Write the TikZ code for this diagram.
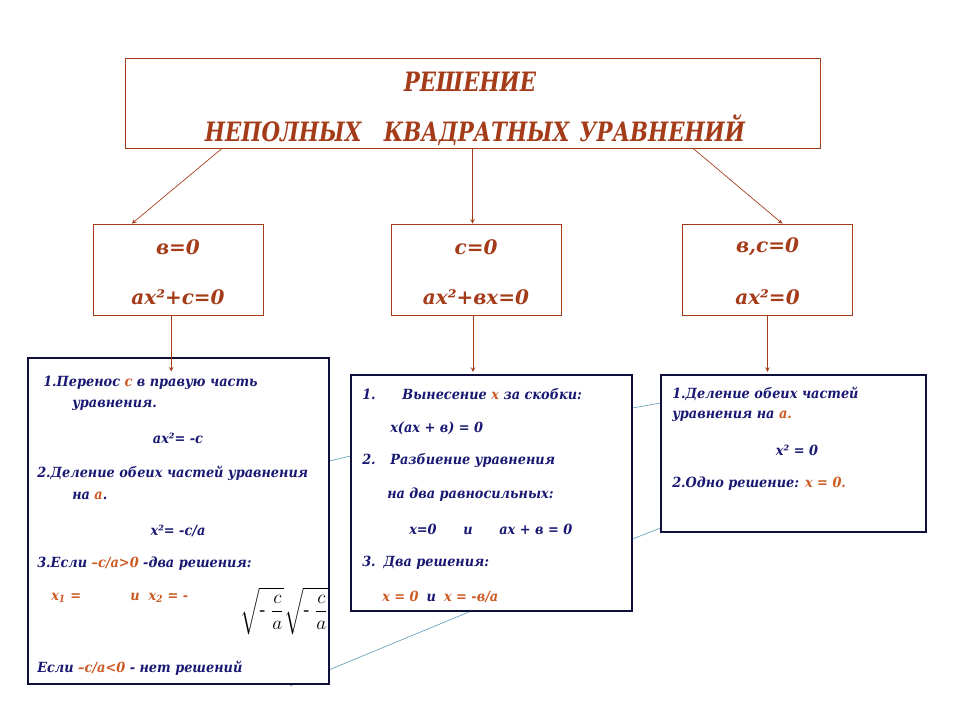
\documentclass[tikz,border=0pt]{standalone}
\usepackage{amsmath}
\usepackage{fontspec}
\setmainfont{DejaVu Serif}
\newfontfamily\titlefont{DejaVu Serif}[FakeStretch=0.8]
\newfontfamily\stepfont{DejaVu Serif}[FakeStretch=0.92]
\usetikzlibrary{calc,backgrounds}

\definecolor{brick}{RGB}{165,60,25}
\definecolor{ink}{RGB}{25,25,115}
\definecolor{hot}{RGB}{205,90,35}
\definecolor{wire}{RGB}{105,160,190}
\definecolor{frame}{RGB}{15,15,60}

\newcommand{\orng}[1]{\textcolor{hot}{#1}}
\newcommand{\rootca}{$\sqrt{\text{-}\;\dfrac{c}{a}}$}

\tikzset{
	titlebox/.style={draw=brick, fill=white, line width=0.6pt, minimum width=521.25pt, minimum height=67.5pt},
	casebox/.style={draw=brick, fill=white, line width=0.6pt, minimum width=127.5pt, minimum height=68.25pt},
	stepbox/.style={draw=frame, fill=white, line width=0.8pt},
	arr/.style={-stealth, draw=brick, line width=0.5pt},
	wireline/.style={draw=wire, line width=0.5pt},
	bigtext/.style={text=brick, font=\titlefont\fontsize{20}{24}\selectfont\bfseries\itshape},
	casetext/.style={text=brick, font=\fontsize{15}{18}\selectfont\bfseries\itshape},
	steptext/.style={text=ink, anchor=west, inner sep=0pt, font=\stepfont\fontsize{10.5}{12}\selectfont\bfseries\itshape},
	roottext/.style={font=\fontsize{14}{16}\selectfont, inner sep=0pt},
}

\begin{document}
\begin{tikzpicture}[x=0.75pt,y=-0.75pt]

\useasboundingbox (0,0) rectangle (960,720);

%Title
\node [titlebox] (title) at (472.5,103) {};
\node [bigtext] (tt1) at (470,82) {РЕШЕНИЕ};
\node [bigtext] (tt2) at (475,130) {НЕПОЛНЫХ\hspace{17pt}КВАДРАТНЫХ\hspace{7.5pt}УРАВНЕНИЙ};

%Cases
\node [casebox] (case1) at (178,269.5) {};
\node [casetext] (c11) at (178,247) {в=0};
\node [casetext] (c12) at (178,297) {ax²+c=0};

\node [casebox] (case2) at (476,269.5) {};
\node [casetext] (c21) at (476,247) {c=0};
\node [casetext] (c22) at (476,297) {ax²+вx=0};

\node [casebox] (case3) at (767.5,269.5) {};
\node [casetext] (c31) at (767.5,247) {в,c=0};
\node [casetext] (c32) at (767.5,297) {ax²=0};

\draw[arr] ($(title.south west)!0.14!(title.south east)$) -- ($(case1.north west)!0.23!(case1.north east)$);
\draw[arr] (title.south) -- (title.south |- case2.north);
\draw[arr] ($(title.south west)!0.817!(title.south east)$) -- ($(case3.north west)!0.587!(case3.north east)$);

%Solution boxes
\node [stepbox, minimum width=225.75pt, minimum height=244.5pt] (box1) at (178.5,521) {};
\node [stepbox, minimum width=210.75pt, minimum height=177pt] (box2) at (491.5,493) {};
\node [stepbox, minimum width=198.75pt, minimum height=117.75pt] (box3) at (793.5,453.5) {};

\coordinate (d1) at ($(case1.south west)!0.46!(case1.south east)$);
\draw[arr, shorten >=-10.5pt] (d1) -- (d1 |- box1.north);
\draw[arr, shorten >=2pt] (case2.south -| 473,0) -- (box2.north -| 473,0);
\draw[arr, shorten >=2pt] (case3.south) -- (case3.south |- box3.north);

%Thin lines behind the boxes
\begin{scope}[on background layer]
\fill[white] (0,0) rectangle (960,720);
\coordinate (wend) at (290,686);
\draw[wireline] (wend) -- (box2.south -| 470,0);
\draw[wireline] (box1.east |- 0,461) -- (box2.west |- 0,456);
\draw[wireline] (box2.east |- 0,408) -- (box3.west |- 0,403);
\draw[wireline] (box2.east |- 0,539) -- (box3.west |- 0,528);
\end{scope}

%Box 1
\node [steptext] (s11) at (43,383) {1.Перенос \orng{с} в правую часть};
\node [steptext] (s12) at (72,405) {уравнения.};
\node [steptext, anchor=center] (s13) at (178,438) {ax²= -c};
\node [steptext] (s14) at (37,473) {2.Деление обеих частей уравнения};
\node [steptext] (s15) at (72,496) {на \orng{а}.};
\node [steptext, anchor=center] (s16) at (178,531) {x²= -c/a};
\node [steptext] (s17) at (37,564) {3.Если \orng{–c/a>0} -два решения:};
\node [steptext, text=hot] (s18) at (51,598) {x\textsubscript{1} =};
\node [steptext, text=hot] (s19) at (130,598) {и\ \ x\textsubscript{2} = -};
\node [roottext] (r1) at (262,611) {\rootca};
\node [roottext] (r2) at (306,611) {\rootca};
\node [steptext] (s20) at (37,668) {Если \orng{–c/a<0} - нет решений};

%Box 2
\node [steptext] (t1) at (362,394) {1.\hspace{20pt}Вынесение \orng{x} за скобки:};
\node [steptext] (t2) at (390,428) {x(ax + в) = 0};
\node [steptext] (t3) at (362,461) {2.\hspace{11pt}Разбиение уравнения};
\node [steptext] (t4) at (387,495) {на два равносильных:};
\node [steptext] (t5) at (409,529) {x=0\hspace{20pt}и\hspace{20pt}ax + в = 0};
\node [steptext] (t6) at (362,563) {3.\hspace{6pt}Два решения:};
\node [steptext] (t7) at (382,597) {\orng{x = 0}\hspace{6pt}и\hspace{6pt}\orng{x = -в/a}};

%Box 3
\node [steptext] (u1) at (672,394) {1.Деление обеих частей};
\node [steptext] (u2) at (672,416) {уравнения на \orng{а.}};
\node [steptext, anchor=center] (u3) at (797,450) {x² = 0};
\node [steptext] (u4) at (672,484) {2.Одно решение: \orng{x = 0.}};

\end{tikzpicture}
\end{document}
